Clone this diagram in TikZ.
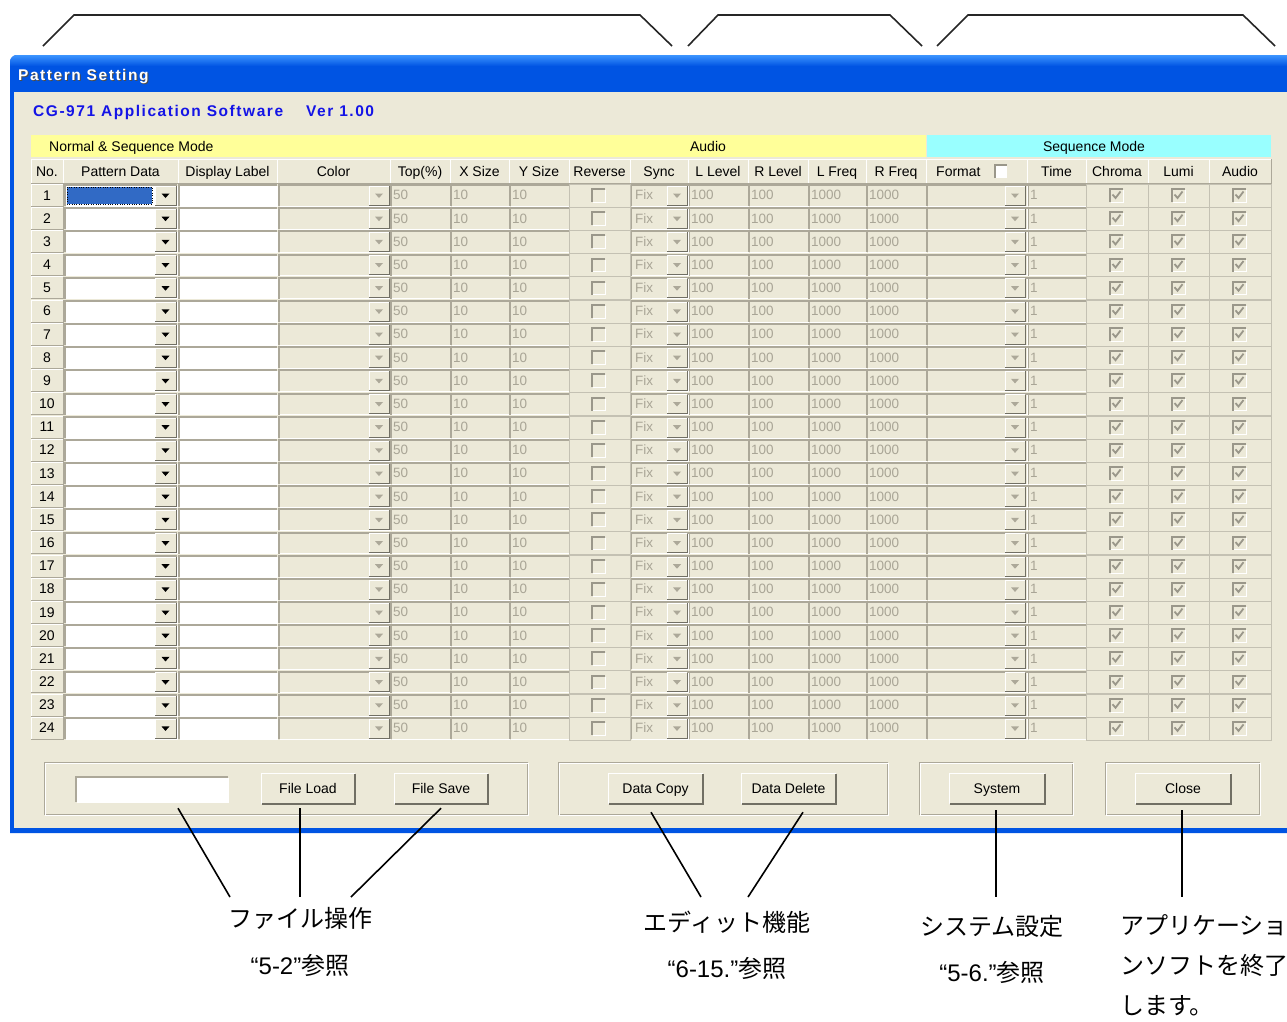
\documentclass[tikz,border=0pt]{standalone}
\usepackage{fontspec}
\setmainfont{Liberation Sans}
\newfontfamily\cjk{Noto Sans CJK JP}
\newfontfamily\spaced[LetterSpace=10]{Liberation Sans}

\definecolor{uibg}{HTML}{ECE9D8}
\definecolor{uidark}{HTML}{ACA899}
\definecolor{uidarker}{HTML}{716F64}
\definecolor{uigrey}{HTML}{A9A596}
\definecolor{uicheck}{HTML}{9A978A}
\definecolor{uigrid}{HTML}{C4C1B3}
\definecolor{bandyellow}{HTML}{FFFF99}
\definecolor{bandcyan}{HTML}{99FFFF}
\definecolor{xpblue}{HTML}{0054E3}
\definecolor{xplight}{HTML}{3D95FF}
\definecolor{selblue}{HTML}{316AC5}
\definecolor{appblue}{HTML}{1414E6}

\tikzset{
	ui/.style={font=\fontsize{14}{16}\selectfont, inner sep=0pt, text height=10pt, text depth=0pt},
	cellval/.style={font=\fontsize{13.5}{15}\selectfont, text=uigrey, anchor=west, inner sep=0pt, text height=9.7pt, text depth=0pt},
	btn/.style={fill=uibg, font=\fontsize{14}{16}\selectfont, inner sep=0pt, minimum height=31pt, text height=10pt, text depth=0pt},
	wintext/.style={anchor=west, inner sep=0pt, font=\spaced\bfseries\fontsize{15.5}{17}\selectfont, text height=11pt, text depth=0pt},
	jlabel/.style={font=\cjk\fontsize{24}{40}\selectfont, inner sep=0pt},
	reflabel/.style={font=\fontsize{24}{28}\selectfont, inner sep=0pt},
	leader/.style={black, line width=1.6pt},
	bracket/.style={black!85, line width=1.6pt},
}

% x1 y1 x2 y2, y runs down
\newcommand\raised[4]{
	\fill[uibg] (#1,#2) rectangle (#3,#4);
	\draw[white] (#1,#4) -- (#1,#2) -- (#3,#2);
	\draw[uidark] (#1,#4) -- (#3,#4) -- (#3,#2);
}
\newcommand\sunken[5]{
	\fill[#5] (#1,#2) rectangle (#3,#4);
	\draw[uidark, line width=2pt] (#1+1,#4) -- (#1+1,#2+1) -- (#3,#2+1);
	\draw[white] (#1+2,#4) -- (#3,#4) -- (#3,#2+2);
}
\newcommand\dropbtn[5]{
	\fill[uibg] (#1,#2) rectangle (#3,#4);
	\draw[white] (#1,#4) -- (#1,#2) -- (#3,#2);
	\draw[uidarker] (#1,#4) -- (#3,#4) -- (#3,#2);
	\fill[#5] ({(#1+#3)/2-4},{(#2+#4)/2-2}) -- ({(#1+#3)/2+4},{(#2+#4)/2-2}) -- ({(#1+#3)/2},{(#2+#4)/2+2.5}) -- cycle;
}
\newcommand\checkbox[3]{
	\fill[uibg] (#1-7,#2-7) rectangle (#1+7,#2+7);
	\draw[uicheck, line width=2pt] (#1-6,#2+7) -- (#1-6,#2-6) -- (#1+7,#2-6);
	\draw[white] (#1-5,#2+7) -- (#1+7,#2+7) -- (#1+7,#2-5);
	\ifx#3y\draw[uicheck, line width=1.8pt] (#1-3.5,#2-0.5) -- (#1-0.5,#2+3) -- (#1+4.5,#2-3.5);\fi
}

\begin{document}
\begin{tikzpicture}[x=1pt, y=-1pt]
	\useasboundingbox (0,0) rectangle (1287,1021);
	\clip (0,0) rectangle (1287,1021);
	\fill[white] (0,0) rectangle (1287,1021);

	\draw[bracket] (43,46) -- (74,15) -- (640,15) -- (672,46);
	\draw[bracket] (688,46) -- (718,15) -- (890,15) -- (922,46);
	\draw[bracket] (937,46) -- (968,15) -- (1243,15) -- (1275,46);

	\fill[xpblue] (10,62) arc (180:270:7) -- (1300,55) -- (1300,833) -- (10,833) -- cycle;
	\shade[top color=xplight, bottom color=xpblue] (17,55) -- (1300,55) -- (1300,66) -- (10,66) -- (10,62) arc (180:270:7);
	\fill[uibg] (14,92) rectangle (1300,828);
	\node[wintext, text=black!70] (titleshadow) at (19,76) {Pattern Setting};
	\node[wintext, text=white] (title) at (18,75) {Pattern Setting};

	\node[wintext, text=appblue] (app) at (33,111) {CG-971 Application Software};
	\node[wintext, text=appblue] (ver) at (306,111) {Ver 1.00};

	\fill[bandyellow] (31,135) rectangle (926,157);
	\fill[bandcyan] (927,135) rectangle (1271,157);
	\node[ui, anchor=west] (normalmode) at (49,146) {Normal \& Sequence Mode};
	\node[ui] (audio) at (708,146) {Audio};
	\node[ui] (seqmode) at (1094,146) {Sequence Mode};

	\foreach \xa/\xb/\lbl [count=\c] in {31/63/No., 63/178/Pattern Data, 178/277/Display Label, 277/390/Color,
			390/450/Top(\%), 450/509/X Size, 509/569/Y Size, 569/630/Reverse, 630/688/Sync, 688/748/L Level,
			748/808/R Level, 808/866/L Freq, 866/926/R Freq, 926/1027/, 1027/1086/Time, 1086/1148/Chroma,
			1148/1209/Lumi, 1209/1271/Audio}{
		\raised{\xa}{159}{\xb}{183}
		\node[ui] (head-\c) at ({(\xa+\xb)/2},171) {\lbl};
	}
	\node[ui, anchor=west] (format) at (936,171) {Format};
	\fill[white] (994,164) rectangle (1007,178);
	\draw[uicheck, line width=2pt] (995,178) -- (995,165) -- (1007,165);

	\foreach \i in {1,...,24}{
		\pgfmathsetmacro\t{184+(\i-1)*23.17}
		\pgfmathsetmacro\b{\t+22}
		\pgfmathsetmacro\m{\t+11}
		\raised{31}{\t}{63}{\b}
		\node[ui] (no-\i) at (47,\m) {\i};
		\sunken{64}{\t}{177}{\b}{white}
		\dropbtn{155}{\t+2}{176}{\b-1}{black}
		\sunken{178}{\t}{277}{\b}{white}
		\sunken{278}{\t}{390}{\b}{uibg}
		\dropbtn{369}{\t+2}{389}{\b-1}{uidark}
		\foreach \xa/\xb/\val [count=\c] in {390/450/50, 450/509/10, 509/569/10, 688/748/100, 748/808/100,
				808/866/1000, 866/926/1000, 1027/1086/1}{
			\sunken{\xa}{\t}{\xb}{\b}{uibg}
			\node[cellval] (val-\i-\c) at (\xa+3,\m) {\val};
		}
		\sunken{630}{\t}{688}{\b}{uibg}
		\node[cellval] (sync-\i) at (635,\m) {Fix};
		\dropbtn{667}{\t+2}{687}{\b-1}{uidark}
		\sunken{926}{\t}{1027}{\b}{uibg}
		\dropbtn{1005}{\t+2}{1025}{\b-1}{uidark}
		\foreach \xa/\xb in {569/630, 1086/1148, 1148/1209, 1209/1271}{
			\draw[uigrid] (\xa,\t) rectangle (\xb,\b+1);
		}
		\checkbox{598}{\m}{n}
		\checkbox{1116}{\m}{y}
		\checkbox{1178}{\m}{y}
		\checkbox{1239}{\m}{y}
	}
	\fill[selblue] (67,187) rectangle (152,204);
	\draw[black, dotted] (67,187) rectangle (152,204);

	\draw[uidark] (44,762) rectangle (527,814);
	\draw[white] (45,763) rectangle (528,815);
	\draw[uidark] (558,762) rectangle (887,814);
	\draw[white] (559,763) rectangle (888,815);
	\draw[uidark] (919,762) rectangle (1072,814);
	\draw[white] (920,763) rectangle (1073,815);
	\draw[uidark] (1105,762) rectangle (1259,814);
	\draw[white] (1106,763) rectangle (1260,815);

	\sunken{75}{776}{228}{802}{white}
	\node[inner sep=0pt, minimum width=153pt, minimum height=26pt] (filename) at (151.5,789) {};
	\node[btn, minimum width=94pt] (fileload) at (308,788.5) {File Load};
	\node[btn, minimum width=94pt] (filesave) at (441,788.5) {File Save};
	\node[btn, minimum width=95pt] (datacopy) at (655.5,788.5) {Data Copy};
	\node[btn, minimum width=95pt] (datadelete) at (788.5,788.5) {Data Delete};
	\node[btn, minimum width=96pt] (system) at (997,788.5) {System};
	\node[btn, minimum width=96pt] (close) at (1183,788.5) {Close};
	\foreach \n in {fileload, filesave, datacopy, datadelete, system, close}{
		\draw[white] (\n.south west) |- (\n.north east);
		\draw[uidarker, line width=1.5pt] ([xshift=0.75pt]\n.south west) -| ([yshift=-0.75pt]\n.north east);
	}

	\node[jlabel] (filelbl) at (300,918) {ファイル操作};
	\node[reflabel] (fileref) at (300,965) {“5-2”{\cjk 参照}};
	\node[jlabel] (editlbl) at (727,922) {エディット機能};
	\node[reflabel] (editref) at (727,968) {“6-15.”{\cjk 参照}};
	\node[jlabel] (systemlbl) at (992,926) {システム設定};
	\node[reflabel] (systemref) at (992,972) {“5-6.”{\cjk 参照}};
	\node[jlabel, anchor=north west, align=left] (closelbl) at (1120,914) {アプリケーショ\\ンソフトを終了\\します。};

	\coordinate (fileend-a) at (230,897);
	\coordinate (fileend-b) at (300,897);
	\coordinate (fileend-c) at (351,897);
	\coordinate (editend-a) at (701,897);
	\coordinate (editend-b) at (748,897);
	\coordinate (systemend) at (996,897);
	\coordinate (closeend) at (1182,897);
	\draw[leader] ([xshift=26.5pt, yshift=-6pt]filename.south) -- (fileend-a);
	\draw[leader] ([xshift=-8pt, yshift=-4pt]fileload.south) -- (fileend-b);
	\draw[leader] ([yshift=-4pt]filesave.south) -- (fileend-c);
	\draw[leader] ([xshift=-4.5pt, yshift=-8pt]datacopy.south) -- (editend-a);
	\draw[leader] ([xshift=14.5pt, yshift=-8pt]datadelete.south) -- (editend-b);
	\draw[leader] ([xshift=-1pt, yshift=-6pt]system.south) -- (systemend);
	\draw[leader] ([xshift=-1pt, yshift=-6pt]close.south) -- (closeend);
\end{tikzpicture}
\end{document}
